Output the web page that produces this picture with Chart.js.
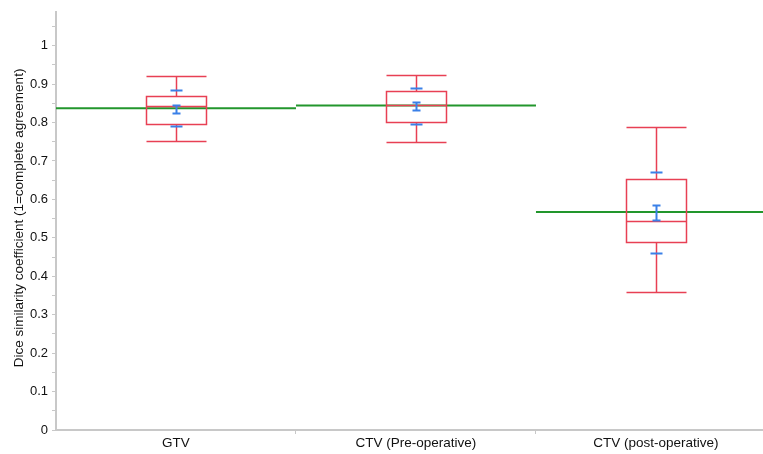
<!DOCTYPE html>
<html>
<head>
<meta charset="utf-8">
<script src="https://cdn.jsdelivr.net/npm/chart.js@4/dist/chart.umd.min.js"></script>
<style>
  html, body { margin: 0; padding: 0; background: #fff; overflow: hidden; }
  #wrap { width: 763px; height: 454px; }
</style>
</head>
<body>
<div id="wrap"><canvas id="dsc"></canvas></div>
<script>
const categories = ["GTV", "CTV (Pre-operative)", "CTV (post-operative)"];
const whiskerLow = [0.751, 0.750, 0.358];
const q1 = [0.795, 0.801, 0.490];
const median = [0.844, 0.846, 0.544];
const q3 = [0.870, 0.883, 0.653];
const whiskerHigh = [0.922, 0.924, 0.788];
const means = [0.837, 0.844, 0.567];
const ciLow = [0.826, 0.833, 0.547];
const ciHigh = [0.846, 0.853, 0.585];
const sdLow = [0.790, 0.797, 0.461];
const sdHigh = [0.884, 0.890, 0.670];

const RED = "rgb(232,64,84)";
const BLUE = "rgb(58,128,232)";
const GREEN = "rgb(34,150,44)";
const FONT = "'Liberation Sans', Arial, sans-serif";

// mean lines, one per category, spanning the whole category
const meanSets = means.map((m, i) => ({
    type: "line",
    data: [{ x: i, y: m }, { x: i + 1, y: m }],
    borderColor: GREEN,
    borderWidth: 2,
    pointRadius: 0,
    fill: false,
}));

const boxPlugin = {
    id: "boxes",
    afterDatasetsDraw(chart) {
        const ctx = chart.ctx;
        const x = chart.scales.x, y = chart.scales.y;
        ctx.save();
        categories.forEach((c, i) => {
            const cx = Math.round(x.getPixelForValue(i + 0.5)) + 0.5;
            const half = x.getPixelForValue(0.125) - x.getPixelForValue(0);
            const py = v => Math.round(y.getPixelForValue(v)) + 0.5;
            ctx.strokeStyle = RED;
            ctx.lineWidth = 1.5;
            ctx.beginPath();
            // whiskers
            ctx.moveTo(cx, py(whiskerHigh[i])); ctx.lineTo(cx, py(q3[i]));
            ctx.moveTo(cx, py(q1[i])); ctx.lineTo(cx, py(whiskerLow[i]));
            ctx.moveTo(cx - half, py(whiskerHigh[i])); ctx.lineTo(cx + half, py(whiskerHigh[i]));
            ctx.moveTo(cx - half, py(whiskerLow[i])); ctx.lineTo(cx + half, py(whiskerLow[i]));
            // median
            ctx.moveTo(cx - half, py(median[i])); ctx.lineTo(cx + half, py(median[i]));
            ctx.stroke();
            ctx.strokeRect(cx - half, py(q3[i]), 2 * half, py(q1[i]) - py(q3[i]));
            // SD marks and CI of the mean
            ctx.strokeStyle = BLUE;
            ctx.lineWidth = 2;
            ctx.beginPath();
            ctx.moveTo(cx - 6, py(sdHigh[i])); ctx.lineTo(cx + 6, py(sdHigh[i]));
            ctx.moveTo(cx - 6, py(sdLow[i])); ctx.lineTo(cx + 6, py(sdLow[i]));
            ctx.moveTo(cx - 4, py(ciHigh[i])); ctx.lineTo(cx + 4, py(ciHigh[i]));
            ctx.moveTo(cx - 4, py(ciLow[i])); ctx.lineTo(cx + 4, py(ciLow[i]));
            ctx.moveTo(cx, py(ciHigh[i])); ctx.lineTo(cx, py(ciLow[i]));
            ctx.stroke();
        });
        // y axis title
        ctx.fillStyle = "#111";
        ctx.font = "13.5px " + FONT;
        ctx.textAlign = "center";
        ctx.textBaseline = "middle";
        ctx.translate(19, 218);
        ctx.rotate(-Math.PI / 2);
        ctx.fillText("Dice similarity coefficient (1=complete agreement)", 0, 0);
        ctx.restore();
    },
};

new Chart(document.getElementById("dsc"), {
    type: "scatter",
    data: { datasets: meanSets },
    options: {
        responsive: true,
        maintainAspectRatio: false,
        animation: false,
        layout: { padding: { top: 9, right: 0, left: 0, bottom: 0 } },
        plugins: { legend: { display: false }, tooltip: { enabled: false } },
        scales: {
            x: {
                type: "linear",
                min: 0,
                max: 2.946,
                afterBuildTicks: s => {
                    s.ticks = [0.5, 1, 1.5, 2, 2.5].map(v => ({ value: v }));
                },
                afterFit: s => { s.height = 24; },
                ticks: {
                    autoSkip: false,
                    maxRotation: 0,
                    padding: 1,
                    color: "#111",
                    font: { family: FONT, size: 13.5 },
                    callback: v => (v % 1 === 0.5 ? categories[Math.floor(v)] : ""),
                },
                grid: {
                    drawOnChartArea: false,
                    tickLength: 4,
                    tickColor: c => (c.tick && c.tick.value % 1 === 0 ? "#c8c8c8" : "rgba(0,0,0,0)"),
                },
                border: { color: "#c8c8c8", width: 2 },
            },
            y: {
                min: 0,
                max: 1.088,
                afterBuildTicks: s => {
                    const t = [];
                    for (let k = 0; k <= 21; k++) t.push({ value: k * 0.05 });
                    s.ticks = t;
                },
                afterFit: s => { s.width = 56; },
                ticks: {
                    autoSkip: false,
                    padding: 4,
                    color: "#111",
                    font: { family: FONT, size: 13 },
                    callback: v => {
                        const k = Math.round(v / 0.05);
                        if (k % 2) return "";
                        return k === 0 ? "0" : k === 20 ? "1" : (k / 20).toFixed(1);
                    },
                },
                grid: { drawOnChartArea: false, tickLength: 4, tickColor: "#c8c8c8" },
                border: { color: "#c8c8c8", width: 2 },
            },
        },
    },
    plugins: [boxPlugin],
});
</script>
</body>
</html>
